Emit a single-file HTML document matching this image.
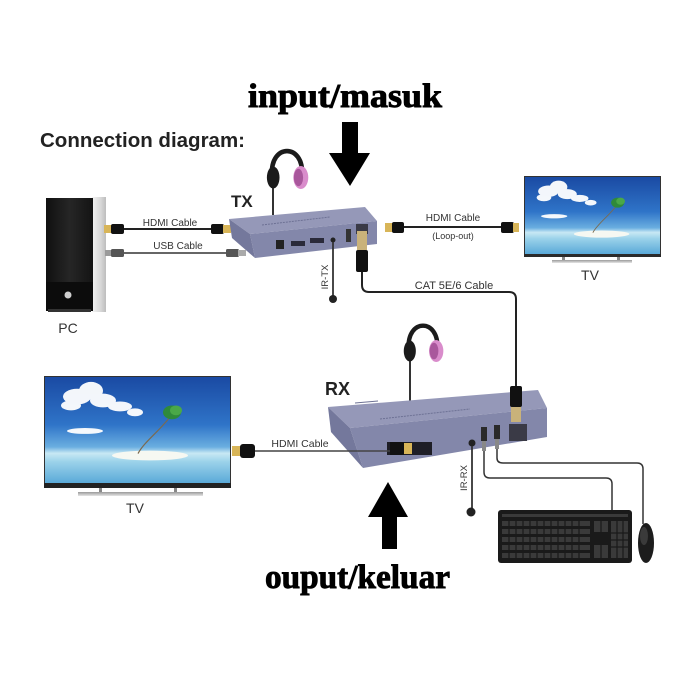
<!DOCTYPE html>
<html><head><meta charset="utf-8"><style>
html,body{margin:0;padding:0;background:#fff;}
svg{display:block;}
</style></head><body>
<svg width="700" height="700" viewBox="0 0 700 700" xmlns="http://www.w3.org/2000/svg">
<defs>
  <linearGradient id="sky" x1="0" y1="0" x2="0" y2="1">
    <stop offset="0" stop-color="#1a4aa3"/>
    <stop offset="0.45" stop-color="#2f74c8"/>
    <stop offset="0.66" stop-color="#6aaee0"/>
    <stop offset="0.72" stop-color="#c8e8f4"/>
    <stop offset="0.8" stop-color="#9bd2ea"/>
    <stop offset="1" stop-color="#5aa9d8"/>
  </linearGradient>
  <linearGradient id="pcside" x1="0" y1="0" x2="1" y2="0">
    <stop offset="0" stop-color="#f4f4f4"/>
    <stop offset="0.6" stop-color="#d9d9d9"/>
    <stop offset="1" stop-color="#bdbdbd"/>
  </linearGradient>
  <linearGradient id="pcfront" x1="0" y1="0" x2="1" y2="0">
    <stop offset="0" stop-color="#101010"/>
    <stop offset="0.5" stop-color="#262626"/>
    <stop offset="1" stop-color="#141414"/>
  </linearGradient>
  <linearGradient id="standg" x1="0" y1="0" x2="0" y2="1">
    <stop offset="0" stop-color="#9a9a9a"/>
    <stop offset="1" stop-color="#e6e6e6"/>
  </linearGradient>
  <symbol id="screen" viewBox="0 0 185 108" preserveAspectRatio="none">
    <rect x="0" y="0" width="185" height="108" fill="url(#sky)"/>
    <g fill="#ffffff" opacity="0.95">
      <ellipse cx="32" cy="20" rx="14" ry="8"/>
      <ellipse cx="46" cy="14" rx="12" ry="9"/>
      <ellipse cx="58" cy="24" rx="13" ry="7"/>
      <ellipse cx="26" cy="29" rx="10" ry="5"/>
      <ellipse cx="75" cy="30" rx="12" ry="5"/>
      <ellipse cx="90" cy="36" rx="8" ry="4"/>
      <ellipse cx="40" cy="55" rx="18" ry="3"/>
    </g>
    <ellipse cx="105" cy="80" rx="38" ry="5" fill="#f6f8f2"/>
    <path d="M93,78 C100,65 115,55 127,38" stroke="#7a6a50" stroke-width="1.2" fill="none"/>
    <ellipse cx="127" cy="36" rx="9" ry="7" fill="#2f8a3a"/>
    <ellipse cx="131" cy="34" rx="6" ry="5" fill="#4aa848"/>
  </symbol>
  <g id="phones">
    <path d="M-13,8 C-15,-20 15,-20 13,8" stroke="#1b1b1b" stroke-width="4" fill="none"/>
    <ellipse cx="-12" cy="10" rx="5.5" ry="9.5" fill="#1b1b1b"/>
    <ellipse cx="12" cy="10" rx="6.5" ry="10" fill="#d98ccb"/>
    <ellipse cx="10" cy="10" rx="4" ry="7.5" fill="#a9579c"/>
  </g>
</defs>

<!-- Headings -->
<text x="248" y="107" font-family="Liberation Serif, serif" font-weight="bold" font-size="34" fill="#000" stroke="#000" stroke-width="0.9" textLength="194" lengthAdjust="spacingAndGlyphs">input/masuk</text>
<text x="40" y="147" font-family="Liberation Sans, sans-serif" font-weight="bold" font-size="20.5" fill="#222" textLength="205" lengthAdjust="spacingAndGlyphs">Connection diagram:</text>
<text x="265" y="588" font-family="Liberation Serif, serif" font-weight="bold" font-size="34" fill="#000" stroke="#000" stroke-width="0.9" textLength="185" lengthAdjust="spacingAndGlyphs">ouput/keluar</text>

<!-- Arrows -->
<polygon points="342,122 358,122 358,153 370,153 350,186 329,153 342,153" fill="#000"/>
<polygon points="382,549 397,549 397,517 408,517 388,482 368,517 382,517" fill="#000"/>

<!-- PC -->
<rect x="92" y="197" width="14" height="115" fill="url(#pcside)"/>
<rect x="46" y="198" width="47" height="113" fill="url(#pcfront)"/>
<rect x="46" y="282" width="47" height="29" fill="#0c0c0c"/>
<circle cx="68" cy="295" r="3.5" fill="#cfcfcf"/>
<rect x="48" y="309" width="43" height="3" fill="#333"/>
<text x="68" y="333" text-anchor="middle" font-family="Liberation Sans, sans-serif" font-size="14" fill="#333">PC</text>

<!-- PC HDMI -->
<line x1="120" y1="229" x2="215" y2="229" stroke="#222" stroke-width="2"/>
<rect x="104" y="225" width="8" height="8" fill="#d8b558"/>
<rect x="111" y="224" width="13" height="10" rx="2" fill="#111"/>
<rect x="211" y="224" width="13" height="10" rx="2" fill="#111"/>
<rect x="223" y="225" width="8" height="8" fill="#d8b558"/>
<text x="170" y="226" text-anchor="middle" font-family="Liberation Sans, sans-serif" font-size="10" fill="#333">HDMI Cable</text>
<!-- PC USB -->
<line x1="120" y1="253" x2="232" y2="253" stroke="#333" stroke-width="1.6"/>
<rect x="105" y="250" width="7" height="6" fill="#9a9a9a"/>
<rect x="111" y="249" width="13" height="8" rx="1.5" fill="#555"/>
<rect x="226" y="249" width="13" height="8" rx="1.5" fill="#555"/>
<rect x="238" y="250" width="8" height="6" fill="#aaa"/>
<text x="178" y="249" text-anchor="middle" font-family="Liberation Sans, sans-serif" font-size="10" fill="#333">USB Cable</text>

<!-- TX headphones -->
<line x1="273" y1="185" x2="273" y2="215" stroke="#333" stroke-width="2"/>
<use href="#phones" transform="translate(287,166) scale(1.15)"/>
<text x="231" y="207" font-family="Liberation Sans, sans-serif" font-weight="bold" font-size="17" fill="#222">TX</text>

<!-- TX box -->
<polygon points="229,219 365,207 377,221 250,234" fill="#9598b8"/>
<polygon points="250,234 377,221 377,244 255,258" fill="#8387aa"/>
<polygon points="229,219 250,234 255,258 232,238" fill="#74789c"/>
<line x1="262" y1="225" x2="330" y2="217" stroke="#6d7194" stroke-width="1" stroke-dasharray="2,1"/>
<rect x="276" y="240" width="8" height="9" fill="#222"/>
<rect x="291" y="241" width="14" height="5" fill="#2a2a3a"/>
<rect x="310" y="238" width="14" height="5" fill="#2a2a3a"/>
<circle cx="333" cy="240" r="2.5" fill="#222"/>
<rect x="346" y="229" width="5" height="13" fill="#333"/>
<rect x="356" y="224" width="12" height="10" fill="#3a3a46"/>

<!-- IR-TX -->
<line x1="333" y1="242" x2="333" y2="296" stroke="#333" stroke-width="1.8"/>
<circle cx="333" cy="299" r="4" fill="#222"/>
<text transform="translate(328,277) rotate(-90)" text-anchor="middle" font-family="Liberation Sans, sans-serif" font-size="9.5" fill="#333">IR-TX</text>

<!-- Loop-out HDMI -->
<line x1="400" y1="227" x2="505" y2="227" stroke="#222" stroke-width="2"/>
<rect x="385" y="223" width="8" height="9" fill="#d8b558"/>
<rect x="392" y="222" width="12" height="11" rx="2" fill="#111"/>
<rect x="501" y="222" width="13" height="11" rx="2" fill="#111"/>
<rect x="513" y="223" width="6" height="9" fill="#d8b558"/>
<text x="453" y="221" text-anchor="middle" font-family="Liberation Sans, sans-serif" font-size="10" fill="#333">HDMI Cable</text>
<text x="453" y="239" text-anchor="middle" font-family="Liberation Sans, sans-serif" font-size="9" fill="#333">(Loop-out)</text>

<!-- CAT cable -->
<path d="M362,268 L362,285 Q362,292 369,292 L509,292 Q516,292 516,299 L516,390" stroke="#222" stroke-width="2" fill="none"/>
<rect x="357" y="231" width="10" height="19" fill="#c9b27a"/>
<rect x="356" y="250" width="12" height="22" rx="2" fill="#111"/>
<text x="454" y="289" text-anchor="middle" font-family="Liberation Sans, sans-serif" font-size="11" fill="#333">CAT 5E/6 Cable</text>

<!-- TV top right -->
<rect x="524" y="176" width="137" height="81" fill="#333"/>
<use href="#screen" x="525" y="177" width="135" height="77"/>
<rect x="524" y="254" width="137" height="3" fill="#2a2a2a"/>
<rect x="562" y="257" width="3" height="4" fill="#888"/>
<rect x="617" y="257" width="3" height="4" fill="#888"/>
<rect x="552" y="260" width="80" height="3" fill="url(#standg)"/>
<text x="590" y="280" text-anchor="middle" font-family="Liberation Sans, sans-serif" font-size="14" fill="#333">TV</text>

<!-- RX headphones -->
<line x1="410" y1="357" x2="410" y2="402" stroke="#333" stroke-width="2"/>
<use href="#phones" transform="translate(423,340) scale(1.1)"/>
<text x="325" y="395" font-family="Liberation Sans, sans-serif" font-weight="bold" font-size="18" fill="#222">RX</text>

<!-- RX box -->
<polygon points="328,407 538,390 547,408 350,428" fill="#9598b8"/>
<polygon points="350,428 547,408 547,437 363,468" fill="#8387aa"/>
<polygon points="328,407 350,428 363,468 331,432" fill="#74789c"/>
<line x1="380" y1="419" x2="470" y2="409" stroke="#6d7194" stroke-width="1" stroke-dasharray="2,1"/>
<line x1="355" y1="403" x2="378" y2="401" stroke="#6d7194" stroke-width="1"/>
<rect x="387" y="442" width="45" height="13" fill="#1e1e26"/>
<circle cx="472" cy="443" r="3.5" fill="#222"/>
<rect x="481" y="427" width="6" height="14" fill="#2a2a2a"/>
<rect x="494" y="425" width="6" height="14" fill="#2a2a2a"/>
<rect x="509" y="424" width="18" height="17" fill="#3a3a46"/>
<!-- RX cat plug -->
<rect x="511" y="406" width="10" height="16" fill="#c9b27a"/>
<rect x="510" y="386" width="12" height="21" rx="2" fill="#111"/>

<!-- RX HDMI to TV -->
<line x1="250" y1="451" x2="395" y2="451" stroke="#444" stroke-width="1.6"/>
<rect x="232" y="446" width="9" height="10" fill="#d8b558"/>
<rect x="240" y="444" width="15" height="14" rx="3" fill="#111"/>
<rect x="390" y="442" width="14" height="13" fill="#111"/>
<rect x="404" y="443" width="8" height="11" fill="#d8b558"/>
<text x="300" y="447" text-anchor="middle" font-family="Liberation Sans, sans-serif" font-size="10.5" fill="#333">HDMI Cable</text>

<!-- Left TV -->
<rect x="44" y="376" width="187" height="112" fill="#333"/>
<use href="#screen" x="45" y="377" width="185" height="106"/>
<rect x="44" y="483" width="187" height="5" fill="#222"/>
<rect x="99" y="488" width="3" height="5" fill="#888"/>
<rect x="174" y="488" width="3" height="5" fill="#888"/>
<rect x="78" y="492" width="125" height="4" fill="url(#standg)"/>
<text x="135" y="513" text-anchor="middle" font-family="Liberation Sans, sans-serif" font-size="14" fill="#333">TV</text>

<!-- IR-RX -->
<line x1="472" y1="446" x2="472" y2="508" stroke="#333" stroke-width="1.8"/>
<circle cx="471" cy="512" r="4.5" fill="#222"/>
<text transform="translate(467,478) rotate(-90)" text-anchor="middle" font-family="Liberation Sans, sans-serif" font-size="9.5" fill="#333">IR-RX</text>

<!-- USB cables to keyboard/mouse -->
<rect x="482" y="441" width="4" height="10" fill="#888"/>
<rect x="495" y="439" width="4" height="10" fill="#888"/>
<path d="M484,451 L484,472 Q484,478 490,478 L606,478 Q612,478 612,484 L612,512" stroke="#333" stroke-width="1.5" fill="none"/>
<path d="M497,449 L497,458 Q497,463 503,463 L637,463 Q643,463 643,469 L643,524" stroke="#333" stroke-width="1.5" fill="none"/>

<!-- Keyboard -->
<rect x="498" y="510" width="134" height="53" rx="3" fill="#1a1a1a"/>
<g fill="#3a3a3a">
  <rect x="502" y="514" width="126" height="3"/>
  <rect x="502" y="521" width="88" height="5"/>
  <rect x="502" y="529" width="88" height="5"/>
  <rect x="502" y="537" width="88" height="5"/>
  <rect x="502" y="545" width="88" height="5"/>
  <rect x="502" y="553" width="88" height="5"/>
  <rect x="594" y="521" width="14" height="11"/>
  <rect x="594" y="545" width="14" height="13"/>
  <rect x="611" y="521" width="17" height="37"/>
</g>
<g stroke="#1a1a1a" stroke-width="1.2">
  <line x1="509" y1="519" x2="509" y2="560"/><line x1="516" y1="519" x2="516" y2="560"/>
  <line x1="523" y1="519" x2="523" y2="560"/><line x1="530" y1="519" x2="530" y2="560"/>
  <line x1="537" y1="519" x2="537" y2="560"/><line x1="544" y1="519" x2="544" y2="560"/>
  <line x1="551" y1="519" x2="551" y2="560"/><line x1="558" y1="519" x2="558" y2="560"/>
  <line x1="565" y1="519" x2="565" y2="560"/><line x1="572" y1="519" x2="572" y2="560"/>
  <line x1="579" y1="519" x2="579" y2="560"/><line x1="601" y1="519" x2="601" y2="560"/>
  <line x1="617" y1="519" x2="617" y2="560"/><line x1="623" y1="519" x2="623" y2="560"/>
  <line x1="611" y1="533" x2="628" y2="533"/><line x1="611" y1="540" x2="628" y2="540"/>
  <line x1="611" y1="547" x2="628" y2="547"/>
</g>

<!-- Mouse -->
<ellipse cx="646" cy="543" rx="8" ry="20" fill="#1c1c1c"/>
<ellipse cx="644" cy="536" rx="4" ry="9" fill="#3a3a3a"/>
</svg>
</body></html>
